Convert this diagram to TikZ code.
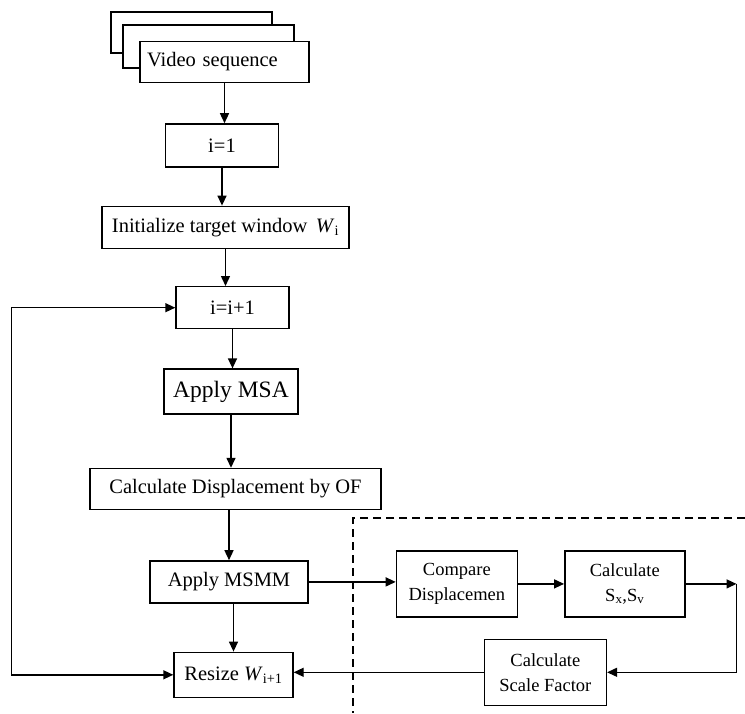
\documentclass[tikz,border=0pt]{standalone}
\usepackage{fontspec}
\setmainfont{Liberation Serif}
\usetikzlibrary{arrows.meta,positioning,calc}

\begin{document}
\begin{tikzpicture}[
  x=1pt,y=1pt,
  node distance=40pt and 40pt,
  proc/.style={draw,line width=1.4pt,fill=white,inner sep=0pt,minimum height=42pt,align=center,font=\fontsize{20.5}{24}\selectfont},
  sub/.style={proc,minimum width=121pt,minimum height=66pt,font=\fontsize{18.5}{25}\selectfont},
  arr/.style={-{Triangle[length=10pt,width=9pt]},line width=1.4pt},
  frame/.style={line width=1.3pt,dash pattern=on 8pt off 5pt}
]
\useasboundingbox (0,0) rectangle (745,-713);
% stacked pages of the video
\node[proc,minimum width=161pt,minimum height=41pt] (pg3) at (191.5,-32.5) {};
\node[proc,minimum width=171pt,minimum height=43pt] (pg2) at (208.5,-46.5) {};
\node[proc,minimum width=169pt,minimum height=41pt,text width=155pt,align=left] (vid) at (224.5,-62) {Video sequence};
% main column
\node[proc,minimum width=113pt,minimum height=43pt,below=40pt of vid,xshift=-2.5pt] (i1) {i=1};
\node[proc,minimum width=247pt,below=38pt of i1,xshift=3.5pt] (init) {Initialize target window \,\textit{W}\textsubscript{i}};
\node[proc,minimum width=113pt,below=37pt of init,xshift=7pt] (inc) {i=i+1};
\node[proc,minimum width=134pt,minimum height=45pt,below=39pt of inc,xshift=-1.5pt,font=\fontsize{23.5}{26}\selectfont] (msa) {Apply MSA};
\node[proc,minimum width=291pt,minimum height=41pt,below=53pt of msa,xshift=4.5pt] (of) {Calculate Displacement by OF};
\node[proc,minimum width=158pt,below=50pt of of,xshift=-6.5pt] (msmm) {Apply MSMM};
\node[proc,minimum width=119pt,minimum height=45pt,below=48pt of msmm,xshift=4.5pt] (rsz) {Resize \textit{W}\textsubscript{i+1}};
% scale loop
\node[sub,right=87pt of msmm,yshift=-2pt] (cmp) {Compare\\Displacemen};
\node[sub,minimum width=120pt,right=46pt of cmp] (sxy) {Calculate\\S\textsubscript{x},S\textsubscript{v}};
\node[sub,minimum width=122pt,right=190pt of rsz,yshift=2.5pt] (scf) {Calculate\\Scale Factor};
\coordinate[right=51pt of sxy] (rc);
\coordinate (lt) at ([xshift=-164pt]inc.west);
\draw[arr] (vid) -- (vid |- i1.north);
\draw[arr] (i1) -- (i1 |- init.north);
\draw[arr] (init) -- (init |- inc.north);
\draw[arr] (inc) -- (inc |- msa.north);
\draw[arr] (msa) -- (msa |- of.north);
\draw[arr] (msmm |- of.south) -- (msmm);
\draw[arr] (rsz |- msmm.south) -- (rsz);
\draw[arr] (msmm) -- (msmm -| cmp.west);
\draw[arr] (cmp) -- (sxy);
\draw[arr] (sxy) -- (rc);
\draw[arr] (rc) |- (scf);
\draw[arr] (scf) -- (scf -| rsz.east);
\draw[arr] (lt) -- (inc);
\draw[arr] (lt) |- (rsz);
\draw[frame] (745,-518) -- (353,-518) -- (353,-713);
\end{tikzpicture}
\end{document}
